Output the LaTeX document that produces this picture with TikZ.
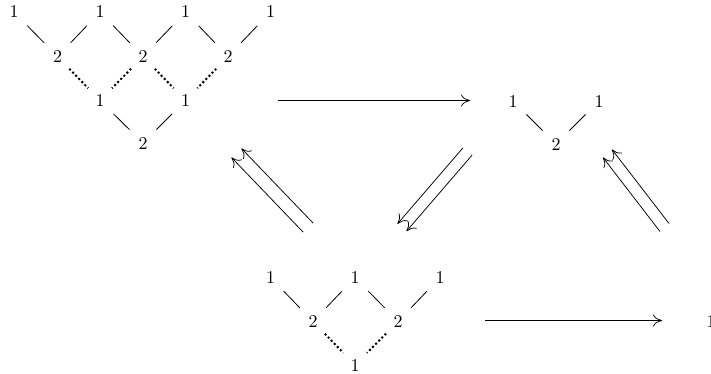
\documentclass[tikz,border=0pt]{standalone}
\usepackage{fontspec}
\setmainfont{lmroman10-regular.otf}
\usetikzlibrary{arrows.meta}
\tikzset{
  lbl/.style={inner sep=0pt, font=\fontsize{18}{20}\selectfont},
  edge/.style={line width=0.8pt, shorten <=19pt, shorten >=19pt},
  dedge/.style={line width=2pt, dash pattern=on 2pt off 2.4pt, shorten <=17pt, shorten >=17pt},
  arr/.style={line width=0.75pt, -{Computer Modern Rightarrow[length=9pt,width=12pt]}},
}
\begin{document}
\begin{tikzpicture}[x=1pt,y=-1pt]
  \useasboundingbox (0,0) rectangle (711,373);
  % left tree
  \node[lbl] (t1) at (14,12) {1};
  \node[lbl] (t2) at (100,12) {1};
  \node[lbl] (t3) at (185.5,12) {1};
  \node[lbl] (t4) at (270.5,12) {1};
  \node[lbl] (ta) at (57.5,56.5) {2};
  \node[lbl] (tb) at (143,56.5) {2};
  \node[lbl] (tc) at (228,56.5) {2};
  \node[lbl] (tu) at (100,100.5) {1};
  \node[lbl] (tv) at (185.5,100.5) {1};
  \node[lbl] (tz) at (143,143) {2};
  \foreach \a/\b in {t1/ta,t2/ta,t2/tb,t3/tb,t3/tc,t4/tc,tu/tz,tv/tz}
    \draw[edge] (\a.center) -- (\b.center);
  \foreach \a/\b in {ta/tu,tb/tu,tb/tv,tc/tv}
    \draw[dedge] (\a.center) -- (\b.center);
  % right tree
  \node[lbl] (s1) at (513,101) {1};
  \node[lbl] (s2) at (599,101) {1};
  \node[lbl] (s3) at (556,144) {2};
  \draw[edge] (s1.center) -- (s3.center);
  \draw[edge] (s2.center) -- (s3.center);
  % bottom tree
  \node[lbl] (b1) at (270.5,277.5) {1};
  \node[lbl] (b2) at (355,277.5) {1};
  \node[lbl] (b3) at (440,277.5) {1};
  \node[lbl] (b4) at (313,321.5) {2};
  \node[lbl] (b5) at (398,321.5) {2};
  \node[lbl] (b6) at (355,365) {1};
  \foreach \a/\b in {b1/b4,b2/b4,b2/b5,b3/b5}
    \draw[edge] (\a.center) -- (\b.center);
  \foreach \a/\b in {b4/b6,b5/b6}
    \draw[dedge] (\a.center) -- (\b.center);
  \node[lbl] (e1) at (711,321) {1};
  % arrows
  \coordinate (h1) at (278,100.5);
  \coordinate (h2) at (470,100.5);
  \coordinate (g1) at (485,320.5);
  \coordinate (g2) at (662,320.5);
  \draw[arr] (h1) -- (h2);
  \draw[arr] (g1) -- (g2);
  \coordinate (p1) at (308,227.5);
  \coordinate (p2) at (236.5,153);
  \coordinate (q1) at (467.5,151.5);
  \coordinate (q2) at (402,227.5);
  \coordinate (r1) at (664.5,227.5);
  \coordinate (r2) at (607.5,153.5);
  \draw[arr] ([xshift=-5pt,yshift=-4.5pt]p1) -- ([xshift=-5pt,yshift=-4.5pt]p2);
  \draw[arr] ([xshift=5pt,yshift=4.5pt]p1) -- ([xshift=5pt,yshift=4.5pt]p2);
  \draw[arr] ([xshift=-4.5pt,yshift=3.7pt]q1) -- ([xshift=-4.5pt,yshift=3.7pt]q2);
  \draw[arr] ([xshift=4.5pt,yshift=-3.7pt]q1) -- ([xshift=4.5pt,yshift=-3.7pt]q2);
  \draw[arr] ([xshift=-4.5pt,yshift=-4pt]r1) -- ([xshift=-4.5pt,yshift=-4pt]r2);
  \draw[arr] ([xshift=4.5pt,yshift=4pt]r1) -- ([xshift=4.5pt,yshift=4pt]r2);
\end{tikzpicture}
\end{document}
